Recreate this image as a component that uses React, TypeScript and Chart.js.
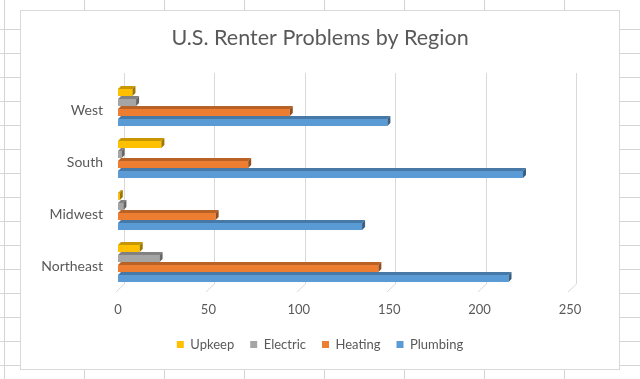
import React, { useEffect, useRef } from 'react';
import { Chart, registerables } from 'chart.js';

Chart.register(...registerables);

const categories = ['West', 'South', 'Midwest', 'Northeast'];
const seriesNames = ['Upkeep', 'Electric', 'Heating', 'Plumbing'];
const upkeep = [8, 24, 1, 12];
const electric = [10, 2, 3, 23];
const heating = [95, 72, 54, 144];
const plumbing = [149, 224, 135, 216];
const xTicks = [0, 50, 100, 150, 200, 250];
const seriesColors = ['#FFC000', '#A5A5A5', '#ED7D31', '#5B9BD5'];

const TEXT = '#595959';
const GRID = '#d9d9d9';
const FONT = 'Lato, "Open Sans", sans-serif';

function shade(hex: string, f: number) {
  const n = parseInt(hex.slice(1), 16);
  const r = Math.round(((n >> 16) & 255) * f);
  const g = Math.round(((n >> 8) & 255) * f);
  const b = Math.round((n & 255) * f);
  return `rgb(${r},${g},${b})`;
}

// centre title and legend on the whole canvas
const centerBlocks = {
  id: 'centerBlocks',
  afterLayout(chart: any) {
    for (const box of [chart.titleBlock, chart.legend]) {
      if (!box) continue;
      box.left = 0;
      box.right = chart.width;
      box.width = chart.width;
    }
  },
};

const bars3d = {
  id: 'bars3d',
  beforeDatasetsDraw(chart: any) {
    const { ctx, chartArea, scales } = chart;
    const x = scales.x;
    ctx.save();
    ctx.strokeStyle = GRID;
    ctx.lineWidth = 1;
    for (const t of xTicks) {
      const px = Math.round(x.getPixelForValue(t)) + 0.5;
      ctx.beginPath();
      ctx.moveTo(px + 6, chartArea.top - 7);
      ctx.lineTo(px + 6, chartArea.bottom - 4);
      ctx.lineTo(px - 2.5, chartArea.bottom + 4);
      ctx.stroke();
    }
    const d = 3;
    chart.data.datasets.forEach((ds: any, i: number) => {
      const meta = chart.getDatasetMeta(i);
      const col = seriesColors[i];
      meta.data.forEach((bar: any) => {
        const p = bar.getProps(['x', 'y', 'base', 'height'], true);
        const x0 = p.base;
        const x1 = p.x;
        const yTop = p.y - p.height / 2;
        const yBot = p.y + p.height / 2;
        ctx.fillStyle = col;
        ctx.fillRect(x0, yTop + d, x1 - x0, yBot - yTop - d);
        ctx.fillStyle = shade(col, 0.78);
        ctx.beginPath();
        ctx.moveTo(x0, yTop + d);
        ctx.lineTo(x1, yTop + d);
        ctx.lineTo(x1 + d, yTop);
        ctx.lineTo(x0 + d, yTop);
        ctx.closePath();
        ctx.fill();
        ctx.fillStyle = shade(col, 0.62);
        ctx.beginPath();
        ctx.moveTo(x1, yTop + d);
        ctx.lineTo(x1 + d, yTop);
        ctx.lineTo(x1 + d, yBot - d);
        ctx.lineTo(x1, yBot);
        ctx.closePath();
        ctx.fill();
      });
    });
    ctx.restore();
    return false;
  },
};

export default function App() {
  const ref = useRef<HTMLCanvasElement>(null);
  useEffect(() => {
    if (!ref.current) return;
    const values = [upkeep, electric, heating, plumbing];
    const chart = new Chart(ref.current, {
      type: 'bar',
      data: {
        labels: categories,
        datasets: seriesNames.map((name, i) => ({
          label: name,
          data: values[i],
          backgroundColor: seriesColors[i],
          borderWidth: 0,
          categoryPercentage: 0.77,
          barPercentage: 1,
        })),
      },
      options: {
        animation: false,
        responsive: false,
        indexAxis: 'y',
        layout: { padding: { left: 0, right: 49, top: 0, bottom: 8 } },
        plugins: {
          title: {
            display: true,
            text: 'U.S. Renter Problems by Region',
            color: TEXT,
            font: { family: FONT, size: 21.5, weight: 'normal' },
            padding: { top: 14.6, bottom: 28.6 },
          },
          legend: {
            position: 'bottom',
            labels: {
              boxWidth: 7,
              boxHeight: 7,
              padding: 16,
              color: TEXT,
              font: { family: FONT, size: 13 },
            },
          },
          tooltip: { enabled: false },
        },
        scales: {
          x: {
            min: 0,
            max: 250,
            afterBuildTicks: (s: any) => {
              s.ticks = xTicks.map((v) => ({ value: v }));
            },
            ticks: { padding: 14, color: TEXT, font: { family: FONT, size: 13 } },
            grid: { display: false, drawTicks: false },
            border: { display: false },
            afterFit: (s: any) => {
              s.height = 34;
            },
          },
          y: {
            grid: { display: false, drawTicks: false },
            border: { display: false },
            ticks: { padding: 15, labelOffset: 4, color: TEXT, font: { family: FONT, size: 14 } },
            afterFit: (s: any) => {
              s.width = 97;
            },
          },
        },
      } as any,
      plugins: [centerBlocks, bars3d],
    });
    return () => chart.destroy();
  }, []);

  return (
    <div
      style={{
        position: 'fixed',
        left: 0,
        top: 0,
        width: 640,
        height: 379,
        background: '#fff',
        backgroundImage:
          'repeating-linear-gradient(to right, transparent 0 79px, #d4d4d4 79px 80px), repeating-linear-gradient(to bottom, transparent 0 23px, #d4d4d4 23px 24px)',
        backgroundPosition: '5px 0, 0 6px',
        overflow: 'hidden',
      }}
    >
      <div
        style={{
          position: 'absolute',
          left: 20,
          top: 10,
          width: 598,
          height: 358,
          border: '1px solid #d9d9d9',
          background: '#fff',
        }}
      >
        <canvas ref={ref} width={598} height={358} style={{ display: 'block' }} />
      </div>
    </div>
  );
}
